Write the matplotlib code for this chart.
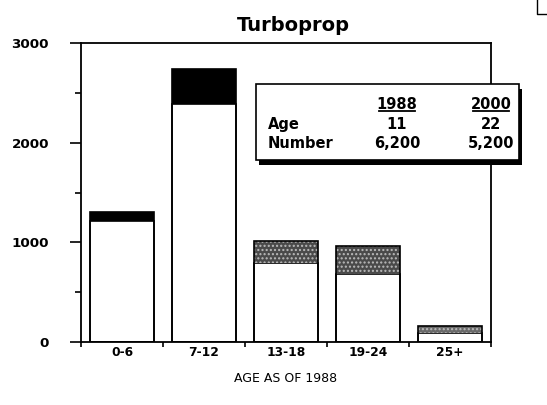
import matplotlib.pyplot as plt
from matplotlib.patches import Rectangle
from matplotlib.lines import Line2D

categories = ["0-6", "7-12", "13-18", "19-24", "25+"]
remaining_2000 = [1210, 2385, 795, 685, 90]
totals_1988 = [1305, 2740, 1015, 965, 165]
retired = [t - r for t, r in zip(totals_1988, remaining_2000)]
top_colors = ["black", "black", "#4a4a4a", "#4a4a4a", "#6a6a6a"]
table_cols = ["1988", "2000"]
table_rows = ["Age", "Number"]
table_vals = [["11", "22"], ["6,200", "5,200"]]

plt.rcParams['font.family'] = ['DejaVu Sans']

W, H = 547, 405
def fx(px):
    return px / W
def fy(py):
    return 1 - py / H

fig = plt.figure(figsize=(5.47, 4.05), dpi=100)
ax = fig.add_axes([fx(81), fy(342), fx(491) - fx(81), fy(43) - fy(342)])

x = list(range(len(categories)))
w = 0.78
ax.bar(x, remaining_2000, width=w, color="white", edgecolor="black", linewidth=1.2)
for i in x:
    hatch = None if top_colors[i] == "black" else "...."
    ax.bar(i, retired[i], bottom=remaining_2000[i], width=w, color=top_colors[i],
           edgecolor="#bbbbbb" if hatch else "black", hatch=hatch, linewidth=0)
    ax.bar(i, totals_1988[i], width=w, fill=False, edgecolor="black", linewidth=1.2)

ax.set_xlim(-0.5, 4.5)
ax.set_ylim(0, 3000)
ax.set_yticks([0, 1000, 2000, 3000])
ax.set_yticks([500, 1500, 2500], minor=True)
ax.set_xticks(x)
ax.set_xticklabels(categories, fontweight="bold", fontsize=8.8)
ax.set_xticks([-0.5, 0.5, 1.5, 2.5, 3.5, 4.5], minor=True)
ax.tick_params(axis="x", which="major", length=0, pad=3)
ax.tick_params(axis="x", which="minor", length=3.5, width=1.2, direction="out")
ax.tick_params(axis="y", which="major", length=8, width=1.2, pad=15, labelsize=9.7)
ax.tick_params(axis="y", which="minor", length=4, width=1.2)
for lab in ax.get_yticklabels():
    lab.set_fontweight("bold")
for s in ax.spines.values():
    s.set_linewidth(1.3)

fig.text(fx(293), fy(31), "Turboprop", ha="center", va="baseline",
         fontweight="bold", fontsize=14)
ax.set_xlabel("AGE AS OF 1988", fontsize=9, labelpad=9)

# inset table box with drop shadow
bx0, by0, bx1, by1 = 256, 84, 519, 160
fig.add_artist(Rectangle((fx(bx0 + 3), fy(by1 + 5)), fx(bx1 - bx0), (by1 - by0) / H,
                         facecolor="black", edgecolor="none",
                         transform=fig.transFigure, zorder=5))
fig.add_artist(Rectangle((fx(bx0), fy(by1)), fx(bx1 - bx0), (by1 - by0) / H,
                         facecolor="white", edgecolor="black", linewidth=1.2,
                         transform=fig.transFigure, zorder=6))

col_x = [397, 491]
for cx, c in zip(col_x, table_cols):
    fig.text(fx(cx), fy(104), c, ha="center", va="center", fontweight="bold",
             fontsize=10.5, zorder=7)
    fig.add_artist(Line2D([fx(cx - 18), fx(cx + 18)], [fy(111), fy(111)],
                          color="black", linewidth=1.3, transform=fig.transFigure, zorder=7))
row_y = [124, 143]
for ry, r, vals in zip(row_y, table_rows, table_vals):
    fig.text(fx(268), fy(ry), r, ha="left", va="center", fontweight="bold",
             fontsize=10.5, zorder=7)
    for cx, v in zip(col_x, vals):
        fig.text(fx(cx), fy(ry), v, ha="center", va="center", fontweight="bold",
                 fontsize=10.5, zorder=7)

# scan corner mark at top right
fig.add_artist(Line2D([fx(537), fx(537), fx(547)], [fy(0), fy(14), fy(14)],
                      color="black", linewidth=1, transform=fig.transFigure))

fig.savefig("out.png", dpi=100)
